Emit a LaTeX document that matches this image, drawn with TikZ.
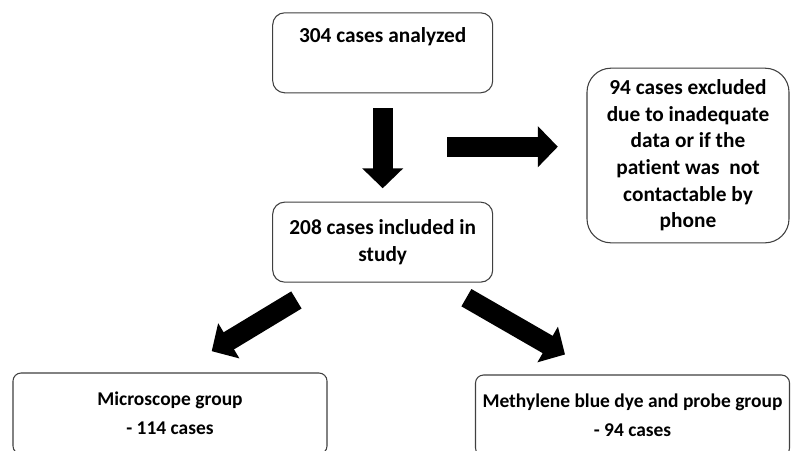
\documentclass[tikz,border=0pt]{standalone}
\usepackage{fontspec}
\setmainfont[Ligatures=NoCommon]{Carlito}
\usetikzlibrary{arrows.meta, positioning, calc}

\begin{document}
\begin{tikzpicture}[
    x=0.75pt, y=-0.75pt,
    box/.style={rectangle, rounded corners=9pt, draw=black!75, line width=0.8pt,
                minimum width=165pt, minimum height=60pt, inner sep=2pt,
                align=center, font=\fontsize{16}{20}\selectfont\bfseries},
    exclbox/.style={box, rounded corners=18pt,
                minimum width=151.5pt, minimum height=131pt},
    groupbox/.style={box, rounded corners=6pt,
                minimum width=235.5pt, minimum height=60.75pt,
                font=\fontsize{14.6}{21.75}\selectfont\bfseries},
    fatarrow/.style={-{Triangle[length=15pt, width=30pt]}, line width=15pt, black}
]
\path[use as bounding box, clip] (0,0) rectangle (791,450);
\fill[white] (0,0) rectangle (791,450);

% Boxes
\node[box] (total) at (382.7,52.8) {304 cases analyzed\\\strut};
\node[box, below=81.2pt of total] (incl) {208 cases included in\\study};
\node[exclbox] (excl) at (688,155.5)
    {94 cases excluded\\due to inadequate\\data or if the\\patient was~ not\\contactable by\\phone};
\node[groupbox] (micro) at (170,413.5) {Microscope group\\- 114 cases};
\node[groupbox] (methyl) at (632.5,415.5) {Methylene blue dye and probe group\\- 94 cases};

% Arrow ends
\coordinate (split) at (447.3,146.7);
\coordinate (ltail) at ($(incl.south)+(-86.3,17.3)$);
\coordinate (ltip)  at ($(micro.north)+(41.7,-21.3)$);
\coordinate (rtail) at ($(incl.south)+(83.7,15)$);
\coordinate (rtip)  at ($(methyl.north)+(-67.5,-20)$);

% Arrows
\draw[fatarrow, shorten <=11.25pt, shorten >=10pt] (total.south) -- (incl.north);
\draw[fatarrow, shorten >=21.5pt] (split) -- (excl.west |- split);
\draw[fatarrow] (ltail) -- (ltip);
\draw[fatarrow] (rtail) -- (rtip);

\end{tikzpicture}
\end{document}
